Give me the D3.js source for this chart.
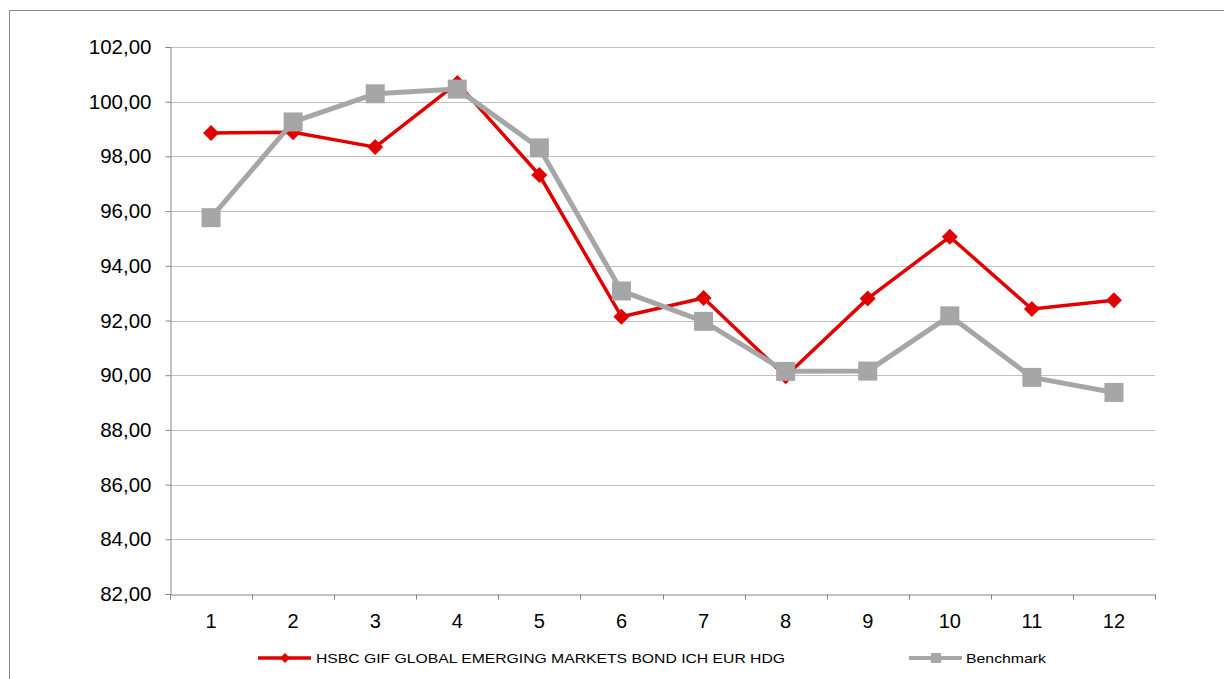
<!DOCTYPE html>
<html><head><meta charset="utf-8">
<script src="https://cdn.jsdelivr.net/npm/d3@7"></script>
<style>body{margin:0;background:#fff}svg{display:block;font-family:"Liberation Sans",Arial,sans-serif}</style>
</head><body><svg id="c" width="1224" height="679"></svg>
<script>
const categories = ["1","2","3","4","5","6","7","8","9","10","11","12"];
const fundName = "HSBC GIF GLOBAL EMERGING MARKETS BOND ICH EUR HDG";
const fundValues = [98.86, 98.88, 98.34, 100.68, 97.32, 92.14, 92.82, 89.96, 92.80, 95.06, 92.42, 92.74];
const benchName = "Benchmark";
const benchValues = [95.76, 99.26, 100.29, 100.46, 98.31, 93.08, 91.97, 90.14, 90.15, 92.17, 89.92, 89.37];
const yTickValues = [82, 84, 86, 88, 90, 92, 94, 96, 98, 100, 102];
const yTickLabels = ["82,00","84,00","86,00","88,00","90,00","92,00","94,00","96,00","98,00","100,00","102,00"];

const svg = d3.select("#c");
const L = 170, R = 1155, T = 47, B = 594;
const x = d3.scaleBand().domain(categories).range([L, R]);
const y = d3.scaleLinear().domain([82, 102]).range([B, T]);
const cx = d => x(d) + x.bandwidth() / 2;

// outer frame
svg.append("line").attr("x1", 9.5).attr("x2", 9.5).attr("y1", 10).attr("y2", 679).attr("stroke", "#8c8c8c");
svg.append("line").attr("x1", 9).attr("x2", 1224).attr("y1", 10.5).attr("y2", 10.5).attr("stroke", "#8c8c8c");

// gridlines
svg.append("g").selectAll("line").data(yTickValues.filter(v => v !== 82)).join("line")
  .attr("x1", L).attr("x2", R).attr("y1", d => Math.round(y(d)) + 0.5).attr("y2", d => Math.round(y(d)) + 0.5)
  .attr("stroke", "#c0c0c0").attr("stroke-width", 1.2);

// y axis
const yAxis = d3.axisLeft(y).tickValues(yTickValues).tickSize(5).tickPadding(14)
  .tickFormat((d, i) => yTickLabels[i]);
const gy = svg.append("g").attr("transform", `translate(${L + 0.5},0)`).call(yAxis);
gy.attr("font-size", 20.5).attr("font-family", "Liberation Sans, Arial, sans-serif");
gy.select(".domain").attr("stroke", "#868686");
gy.selectAll(".tick line").attr("stroke", "#868686");
gy.selectAll(".tick text").attr("fill", "#000");

// x axis
const xAxis = d3.axisBottom(x).tickSize(0).tickPadding(19.5);
const gx = svg.append("g").attr("transform", `translate(0,${B + 0.5})`).call(xAxis);
gx.attr("font-size", 20).attr("font-family", "Liberation Sans, Arial, sans-serif");
gx.select(".domain").attr("stroke", "#868686");
gx.selectAll(".tick text").attr("fill", "#000");
const bounds = categories.map(c => x(c)).concat([R]);
gx.append("g").selectAll("line").data(bounds).join("line")
  .attr("x1", d => Math.round(d) + 0.5).attr("x2", d => Math.round(d) + 0.5).attr("y1", 0).attr("y2", 5)
  .attr("stroke", "#868686");

const diamond = s => `M0,${-s}L${s},0L0,${s}L${-s},0Z`;
const square = s => `M${-s},${-s}H${s}V${s}H${-s}Z`;

// fund series (red)
const line = d3.line().x((d, i) => cx(categories[i])).y(d => y(d));
svg.append("path").datum(fundValues).attr("d", line).attr("fill", "none")
  .attr("stroke", "#e00000").attr("stroke-width", 3.5).attr("stroke-linejoin", "round");
svg.append("g").selectAll("path").data(fundValues).join("path")
  .attr("transform", (d, i) => `translate(${cx(categories[i])},${y(d)})`)
  .attr("d", diamond(8)).attr("fill", "#e00000");

// benchmark series (gray)
svg.append("path").datum(benchValues).attr("d", line).attr("fill", "none")
  .attr("stroke", "#a6a6a6").attr("stroke-width", 5).attr("stroke-linejoin", "round");
svg.append("g").selectAll("path").data(benchValues).join("path")
  .attr("transform", (d, i) => `translate(${cx(categories[i])},${y(d)})`)
  .attr("d", square(9.5)).attr("fill", "#a6a6a6");

// legend
const ly = 658;
const lg1 = svg.append("g");
lg1.append("line").attr("x1", 258).attr("x2", 311).attr("y1", ly).attr("y2", ly).attr("stroke", "#e00000").attr("stroke-width", 3.5);
lg1.append("path").attr("transform", `translate(285,${ly})`).attr("d", diamond(5)).attr("fill", "#e00000");
lg1.append("text").attr("x", 316).attr("y", ly).attr("dy", "0.36em").attr("font-size", 13.5)
  .attr("textLength", 469).attr("lengthAdjust", "spacingAndGlyphs").text(fundName);
const lg2 = svg.append("g");
lg2.append("line").attr("x1", 909).attr("x2", 962).attr("y1", ly).attr("y2", ly).attr("stroke", "#a6a6a6").attr("stroke-width", 4);
lg2.append("path").attr("transform", `translate(936,${ly})`).attr("d", square(5)).attr("fill", "#a6a6a6");
lg2.append("text").attr("x", 966).attr("y", ly).attr("dy", "0.36em").attr("font-size", 13.5)
  .attr("textLength", 80).attr("lengthAdjust", "spacingAndGlyphs").text(benchName);
</script></body></html>
